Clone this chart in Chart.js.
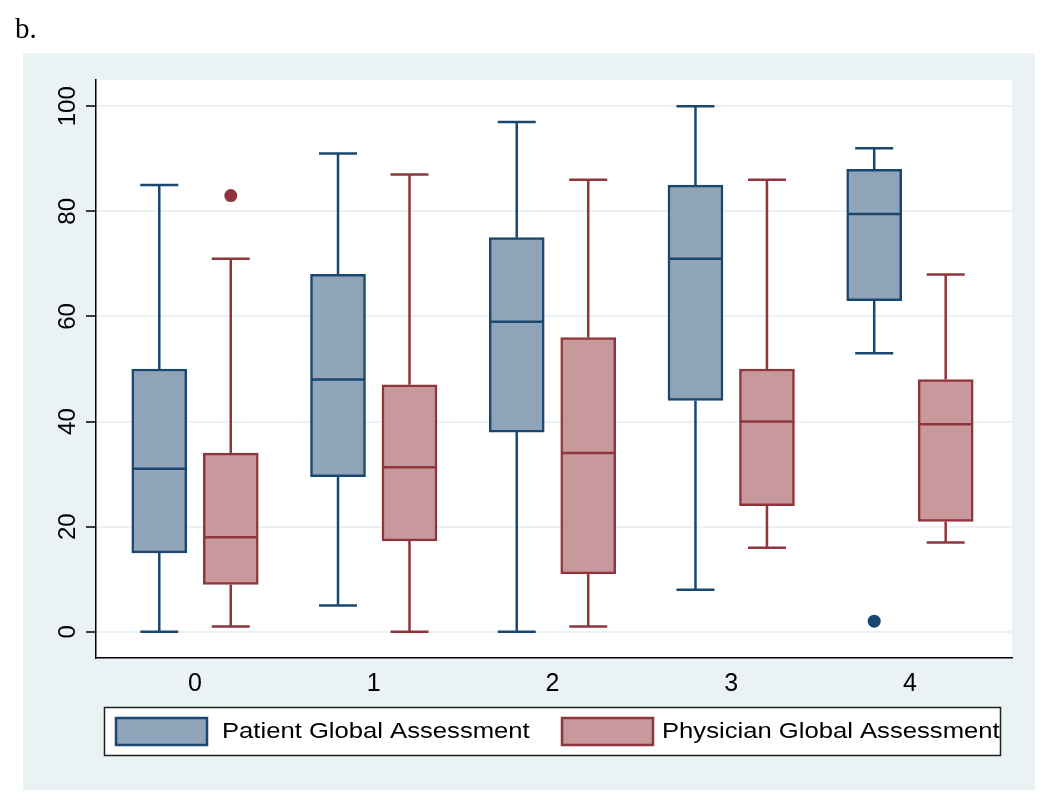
<!DOCTYPE html>
<html>
<head>
<meta charset="utf-8">
<title>Box plot b.</title>
<script src="https://cdn.jsdelivr.net/npm/chart.js@4.4.1/dist/chart.umd.min.js"></script>
<style>
  html, body { margin: 0; padding: 0; background: #fff; }
  #wrap { position: relative; width: 1050px; height: 793px; }
</style>
</head>
<body>
<div id="wrap"><canvas id="chart" width="1050" height="793"></canvas></div>
<script>
/***********************
 * DATEN
 ***********************/
var groups = [0, 1, 2, 3, 4];
var seriesNames = ["Patient Global Assessment", "Physician Global Assessment"];
var yTicks = [0, 20, 40, 60, 80, 100];

// Patient Global Assessment
var patLow  = [0, 5, 0, 8, 53];
var patQ1   = [15, 29.5, 38, 44, 63];
var patMed  = [31, 48, 59, 71, 79.5];
var patQ3   = [50, 68, 75, 85, 88];
var patHigh = [85, 91, 97, 100, 92];
var patOutGroup = [4];
var patOutValue = [2];

// Physician Global Assessment
var phyLow  = [1, 0, 1, 16, 17];
var phyQ1   = [9, 17.3, 11, 24, 21];
var phyMed  = [18, 31.3, 34, 40, 39.5];
var phyQ3   = [34, 47, 56, 50, 48];
var phyHigh = [71, 87, 86, 86, 68];
var phyOutGroup = [0];
var phyOutValue = [83];

/***********************
 * STIL
 ***********************/
var OFFSET = 0.2;            // Abstand Box <-> Gruppenmitte (x-Einheiten)
var BLUE = "#1a476f", BLUE_FILL = "#8fa4b9";
var RED  = "#90353b", RED_FILL  = "#c8999c";
var PANEL = "#eaf2f3";
var FONT = "'Liberation Sans', Arial, sans-serif";

function boxData(q1, q3, off){
  return groups.map(function(g, i){ return { x: g + off, y: [q1[i], q3[i]] }; });
}
function outData(gs, vs, off){
  return gs.map(function(g, i){ return { x: g + off, y: vs[i] }; });
}

var series = [
  { low: patLow, q1: patQ1, med: patMed, q3: patQ3, high: patHigh, off: -OFFSET, stroke: BLUE, fill: BLUE_FILL },
  { low: phyLow, q1: phyQ1, med: phyMed, q3: phyQ3, high: phyHigh, off:  OFFSET, stroke: RED,  fill: RED_FILL }
];

/***********************
 * PLUGIN: Hintergrund, Whisker, Median, Achsenbeschriftung, Legende
 ***********************/
var boxPlugin = {
  id: "stataBox",
  beforeDraw: function(chart){
    var ctx = chart.ctx, a = chart.chartArea;
    ctx.save();
    ctx.fillStyle = "#fff";
    ctx.fillRect(0, 0, chart.width, chart.height);
    ctx.fillStyle = PANEL;
    ctx.fillRect(23, 53, 1012, 737);
    ctx.fillStyle = "#fff";
    ctx.fillRect(a.left, a.top, a.right - a.left, a.bottom - a.top);
    ctx.fillStyle = "#000";
    ctx.font = "29px 'Liberation Serif', 'Times New Roman', serif";
    ctx.textBaseline = "alphabetic";
    ctx.fillText("b.", 15, 38);
    ctx.restore();
  },
  afterDatasetsDraw: function(chart){
    var ctx = chart.ctx, xs = chart.scales.x, ys = chart.scales.y;
    ctx.save();
    ctx.lineWidth = 2.5;
    ctx.lineCap = "butt";
    for (var s = 0; s < series.length; s++){
      var S = series[s];
      ctx.strokeStyle = S.stroke;
      for (var i = 0; i < groups.length; i++){
        var xc = xs.getPixelForValue(groups[i] + S.off);
        var yLow = ys.getPixelForValue(S.low[i]);
        var yQ1 = ys.getPixelForValue(S.q1[i]);
        var yMed = ys.getPixelForValue(S.med[i]);
        var yQ3 = ys.getPixelForValue(S.q3[i]);
        var yHigh = ys.getPixelForValue(S.high[i]);
        ctx.beginPath();
        // Whisker oben + Kappe
        ctx.moveTo(xc, yQ3); ctx.lineTo(xc, yHigh);
        ctx.moveTo(xc - 19, yHigh); ctx.lineTo(xc + 19, yHigh);
        // Whisker unten + Kappe
        ctx.moveTo(xc, yQ1); ctx.lineTo(xc, yLow);
        ctx.moveTo(xc - 19, yLow); ctx.lineTo(xc + 19, yLow);
        // Median
        ctx.moveTo(xc - 27, yMed); ctx.lineTo(xc + 27, yMed);
        ctx.stroke();
      }
    }
    ctx.restore();
  },
  afterDraw: function(chart){
    var ctx = chart.ctx, ys = chart.scales.y;
    ctx.save();
    // y-Beschriftung, um 90° gedreht
    ctx.fillStyle = "#000";
    ctx.font = "24px " + FONT;
    ctx.textAlign = "center";
    ctx.textBaseline = "alphabetic";
    for (var i = 0; i < yTicks.length; i++){
      var py = ys.getPixelForValue(yTicks[i]);
      ctx.save();
      ctx.translate(75, py);
      ctx.rotate(-Math.PI / 2);
      ctx.fillText(String(yTicks[i]), 0, 0);
      ctx.restore();
    }
    // Legende mit Rahmen
    ctx.fillStyle = "#fff";
    ctx.fillRect(104, 707, 897, 48);
    ctx.strokeStyle = "#222";
    ctx.lineWidth = 1.5;
    ctx.strokeRect(104.5, 707.5, 896, 48);
    var items = [
      { x: 116, tx: 222, fill: BLUE_FILL, stroke: BLUE },
      { x: 562, tx: 662, fill: RED_FILL,  stroke: RED }
    ];
    for (var k = 0; k < items.length; k++){
      var it = items[k];
      ctx.fillStyle = it.fill;
      ctx.fillRect(it.x, 718, 91, 27);
      ctx.strokeStyle = it.stroke;
      ctx.lineWidth = 2.5;
      ctx.strokeRect(it.x, 718, 91, 27);
      ctx.save();
      ctx.translate(it.tx, 732);
      ctx.scale(1.165, 1);
      ctx.fillStyle = "#000";
      ctx.font = "22px " + FONT;
      ctx.textAlign = "left";
      ctx.textBaseline = "middle";
      ctx.fillText(seriesNames[k], 0, 0);
      ctx.restore();
    }
    ctx.restore();
  }
};

/***********************
 * CHART
 ***********************/
var ctx = document.getElementById("chart").getContext("2d");
var chart = new Chart(ctx, {
  type: "bar",
  data: {
    datasets: [
      {
        label: seriesNames[0],
        data: boxData(patQ1, patQ3, -OFFSET),
        backgroundColor: BLUE_FILL, borderColor: BLUE, borderWidth: 2.5,
        borderSkipped: false, barThickness: 55, grouped: false
      },
      {
        label: seriesNames[1],
        data: boxData(phyQ1, phyQ3, OFFSET),
        backgroundColor: RED_FILL, borderColor: RED, borderWidth: 2.5,
        borderSkipped: false, barThickness: 55, grouped: false
      },
      {
        type: "scatter", label: "out1",
        data: outData(patOutGroup, patOutValue, -OFFSET),
        pointRadius: 6.5, pointBackgroundColor: BLUE, pointBorderWidth: 0
      },
      {
        type: "scatter", label: "out2",
        data: outData(phyOutGroup, phyOutValue, OFFSET),
        pointRadius: 6.5, pointBackgroundColor: RED, pointBorderWidth: 0
      }
    ]
  },
  options: {
    responsive: false,
    animation: false,
    devicePixelRatio: 1,
    layout: { padding: { left: 0, top: 80, right: 38, bottom: 85 } },
    plugins: { legend: { display: false }, tooltip: { enabled: false } },
    scales: {
      x: {
        type: "linear", min: -0.554, max: 4.571, offset: false,
        afterBuildTicks: function(s){ s.ticks = groups.map(function(v){ return { value: v }; }); },
        afterFit: function(s){ s.height = 50; },
        ticks: { color: "#000", font: { family: FONT, size: 25 }, padding: 11, maxRotation: 0 },
        grid: { display: false, drawTicks: false, offset: false },
        border: { display: true, color: "#000", width: 1.5 }
      },
      y: {
        type: "linear", min: -5, max: 105,
        afterBuildTicks: function(s){ s.ticks = yTicks.map(function(v){ return { value: v }; }); },
        afterFit: function(s){ s.width = 96; },
        ticks: { display: false },
        grid: { color: PANEL, lineWidth: 2, drawTicks: true, tickLength: 10, tickColor: "#000", tickWidth: 1.5 },
        border: { display: true, color: "#000", width: 1.5 }
      }
    }
  },
  plugins: [boxPlugin]
});
</script>
</body>
</html>
